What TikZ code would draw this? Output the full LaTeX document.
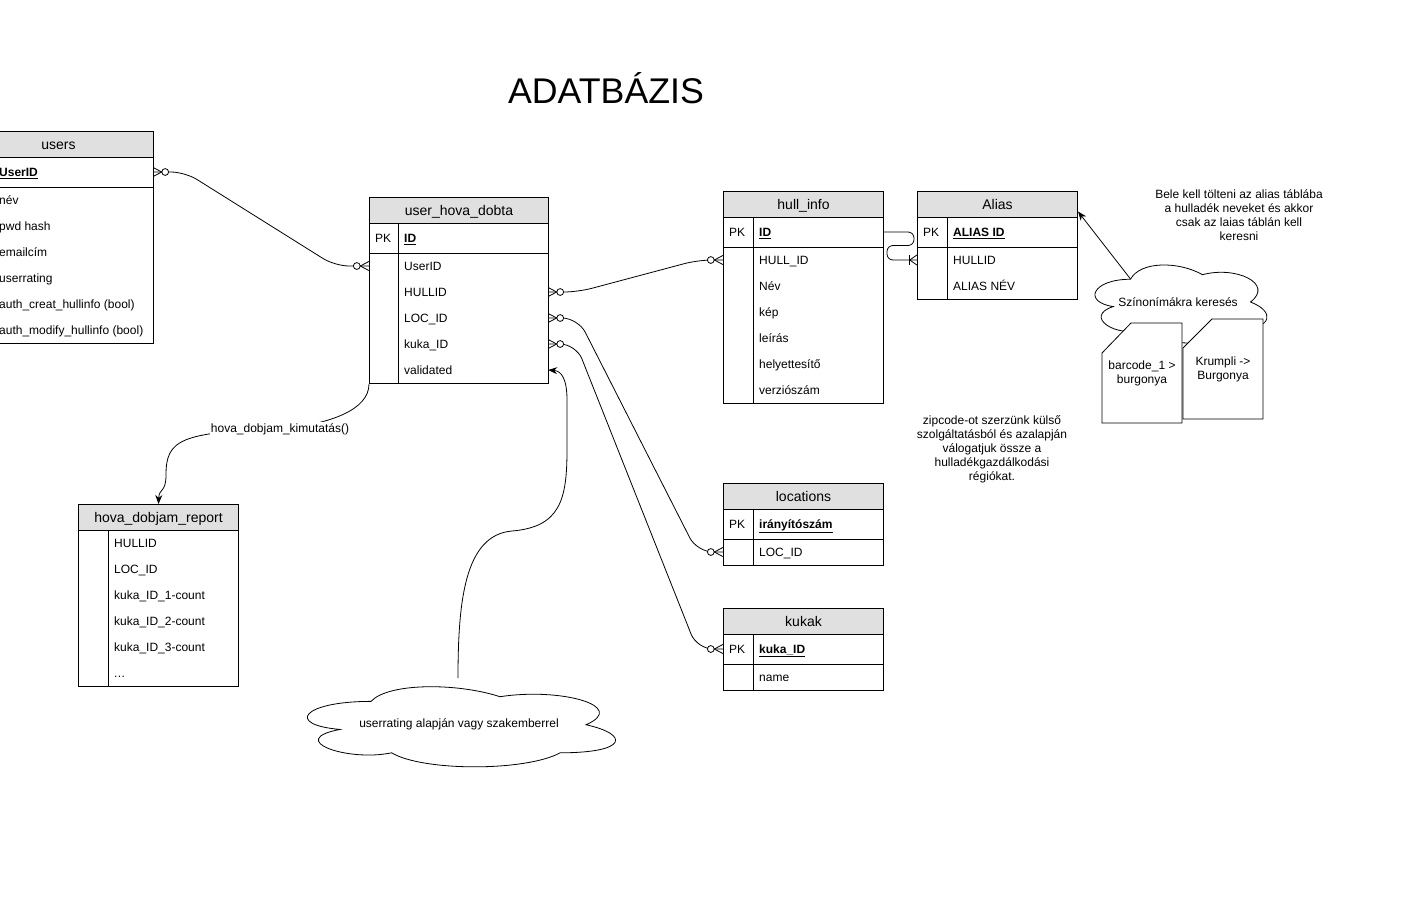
\documentclass[tikz,border=0pt]{standalone}
\usepackage{fontspec}
\setmainfont{Liberation Sans}
\usetikzlibrary{arrows.meta}
\definecolor{hdrgray}{HTML}{E0E0E0}
\newcommand\keyf[1]{\textbf{\underline{#1}}}
\newcommand\fsz{\fontsize{12}{14}\selectfont}
% #1 name, #2 x-left, #3 x-right, #4 y, #5 text x, #6 text
\newcommand\fld[6]{%
  \node[rowbox, minimum width={(#3)-(#2)}] (#1) at ({((#2)+(#3))/2},{#4}) {};
  \node[ft] (#1-t) at ({#5},{#4}) {#6};}
% cloud: #1 x, #2 y, #3 w, #4 h
\newcommand\cloudshape[4]{%
  \begin{scope}[shift={(#1,#2)}, xscale=#3, yscale=#4]
  \draw[conn, fill=white] (0.25,0.25) .. controls (0.05,0.25) and (0,0.5) .. (0.16,0.55)
    .. controls (0,0.66) and (0.18,0.9) .. (0.31,0.8)
    .. controls (0.4,1) and (0.7,1) .. (0.8,0.8)
    .. controls (1,0.8) and (1,0.6) .. (0.875,0.5)
    .. controls (1,0.3) and (0.8,0.1) .. (0.625,0.2)
    .. controls (0.5,0.05) and (0.3,0.05) .. (0.25,0.25) -- cycle;
  \end{scope}}
\tikzset{
  tbox/.style={draw=black, line width=1pt, inner sep=0pt, anchor=north west},
  tb/.style={draw=black, line width=1pt},
  conn/.style={draw=black, line width=0.8pt},
  hdr/.style={draw=black, fill=hdrgray, line width=1pt, inner sep=0pt, anchor=north west,
    minimum height=26pt, font=\fontsize{14}{16}\selectfont, text height=10.2pt, text depth=0pt},
  rowbox/.style={inner sep=0pt, minimum height=26pt},
  ft/.style={inner sep=0pt, anchor=west, font=\fsz, text height=8.6pt, text depth=0pt},
  pk/.style={inner sep=0pt, font=\fsz, text height=8.6pt, text depth=0pt},
  note/.style={align=center, font=\fsz, inner sep=0pt},
  lbl/.style={font=\fsz, fill=white, inner sep=1pt, text height=8.6pt, text depth=2.5pt},
  arr/.style={conn, -{Stealth[length=9pt, width=7pt]}},
  zm/.pic={\draw[conn] (0,-4.5) -- (8.5,0) -- (0,4.5); \draw[conn, fill=white] (12,0) circle[radius=3.4];},
  om/.pic={\draw[conn] (0,-5) -- (7,0) -- (0,5); \draw[conn] (7,-5) -- (7,5);},
}
\begin{document}
\begin{tikzpicture}[x=1pt, y=-1pt]
\useasboundingbox (0,0) rectangle (1403,913);
\clip (0,0) rectangle (1403,913);

% title
\node[inner sep=0pt, font=\fontsize{35.7}{40}\selectfont, text height=25.5pt, text depth=0pt] (title) at (606,90.5) {ADATBÁZIS};

% ---------- users ----------
\node[tbox, minimum width=190pt, minimum height=212pt] (uT) at (-37,131) {};
\node[hdr, minimum width=190pt] (uH) at (-37,131) {users};
\draw[tb] (-37,187) -- (153,187);
\draw[tb] (-7,157) -- (-7,343);
\fld{uUserID}{-37}{153}{172}{-1}{\keyf{UserID}}
\foreach \nm/\tx [count=\i] in {nev/név, pwd/pwd hash, email/emailcím, rating/userrating,
   creat/auth\_creat\_hullinfo (bool), modify/auth\_modify\_hullinfo (bool)}
  {\fld{u\nm}{-37}{153}{187+26*\i-13}{-1}{\tx}}

% ---------- user_hova_dobta ----------
\node[tbox, minimum width=179pt, minimum height=186pt] (uhdT) at (369,197) {};
\node[hdr, minimum width=179pt] (uhdH) at (369,197) {user\_hova\_dobta};
\draw[tb] (369,253) -- (548,253);
\draw[tb] (398.5,223) -- (398.5,383);
\node[pk] (uhdPK) at (383,238) {PK};
\fld{uhdID}{369}{548}{238}{404}{\keyf{ID}}
\foreach \nm/\tx [count=\i] in {UserID/UserID, HULLID/HULLID, LOC/LOC\_ID, KUKA/kuka\_ID, VAL/validated}
  {\fld{uhd\nm}{369}{548}{253+26*\i-13}{404}{\tx}}

% ---------- hull_info ----------
\node[tbox, minimum width=160pt, minimum height=212pt] (hT) at (723,191) {};
\node[hdr, minimum width=160pt] (hH) at (723,191) {hull\_info};
\draw[tb] (723,247) -- (883,247);
\draw[tb] (753,217) -- (753,403);
\node[pk] (hPK) at (737,232) {PK};
\fld{hID}{723}{883}{232}{759}{\keyf{ID}}
\foreach \nm/\tx [count=\i] in {HULLID/HULL\_ID, nev/Név, kep/kép, leiras/leírás, hely/helyettesítő, verzio/verziószám}
  {\fld{h\nm}{723}{883}{247+26*\i-13}{759}{\tx}}

% ---------- Alias ----------
\node[tbox, minimum width=160pt, minimum height=108pt] (aT) at (917,191) {};
\node[hdr, minimum width=160pt] (aH) at (917,191) {Alias};
\draw[tb] (917,247) -- (1077,247);
\draw[tb] (947,217) -- (947,299);
\node[pk] (aPK) at (931,232) {PK};
\fld{aID}{917}{1077}{232}{953}{\keyf{ALIAS ID}}
\fld{aHULLID}{917}{1077}{260}{953}{HULLID}
\fld{aNEV}{917}{1077}{286}{953}{ALIAS NÉV}

% ---------- locations ----------
\node[tbox, minimum width=160pt, minimum height=82pt] (lT) at (723,483) {};
\node[hdr, minimum width=160pt] (lH) at (723,483) {locations};
\draw[tb] (723,539) -- (883,539);
\draw[tb] (753,509) -- (753,565);
\node[pk] (lPK) at (737,524) {PK};
\fld{lIR}{723}{883}{524}{759}{\keyf{irányítószám}}
\fld{lLOC}{723}{883}{552}{759}{LOC\_ID}

% ---------- kukak ----------
\node[tbox, minimum width=160pt, minimum height=82pt] (kT) at (723,608) {};
\node[hdr, minimum width=160pt] (kH) at (723,608) {kukak};
\draw[tb] (723,664) -- (883,664);
\draw[tb] (753,634) -- (753,690);
\node[pk] (kPK) at (737,649) {PK};
\fld{kID}{723}{883}{649}{759}{\keyf{kuka\_ID}}
\fld{kName}{723}{883}{677}{759}{name}

% ---------- hova_dobjam_report ----------
\node[tbox, minimum width=160pt, minimum height=182pt] (rT) at (78,504) {};
\node[hdr, minimum width=160pt] (rH) at (78,504) {hova\_dobjam\_report};
\draw[tb] (108,530) -- (108,686);
\foreach \nm/\tx [count=\i] in {HULLID/HULLID, LOC/LOC\_ID, c1/kuka\_ID\_1-count, c2/kuka\_ID\_2-count, c3/kuka\_ID\_3-count}
  {\fld{r\nm}{78}{238}{530+26*\i-13}{114}{\tx}}
\fld{rdots}{78}{238}{673}{114}{.\kern0.4pt.\kern0.4pt.}

% ---------- ER connectors ----------
\draw[conn, rounded corners=14pt] (uUserID.east) -- (185,172) -- (335,266) -- (uhdUserID.west);
\pic at (uUserID.east) {zm};
\pic[rotate=180] at (uhdUserID.west) {zm};

\draw[conn, rounded corners=14pt] (uhdHULLID.east) -- (578,292) -- (698,260) -- (hHULLID.west);
\pic at (uhdHULLID.east) {zm};
\pic[rotate=180] at (hHULLID.west) {zm};

\draw[conn, rounded corners=16pt] (uhdLOC.east) -- (578,318) -- (697,552) -- (lLOC.west);
\pic at (uhdLOC.east) {zm};
\pic[rotate=180] at (lLOC.west) {zm};

\draw[conn, rounded corners=16pt] (uhdKUKA.east) -- (576,344) -- (697,649) -- (kID.west);
\pic at (uhdKUKA.east) {zm};
\pic[rotate=180] at (kID.west) {zm};

\draw[conn, rounded corners=6pt] (hID.east) -- (914,232) -- (914,245.5) -- (887,245.5) -- (887,260) -- (aHULLID.west);
\pic[rotate=180] at (aHULLID.west) {om};

% ---------- report connector with label ----------
\coordinate (kimc) at (280,429);
\draw[arr] (uhdT.south west) .. controls (369,410) and (330,424) .. (kimc)
  .. controls (180,432) and (166,440) .. (166,475)
  .. controls (166,493) and (159,488) .. (rT.north);
\node[lbl] (kim) at (kimc) {hova\_dobjam\_kimutatás()};

% ---------- clouds ----------
\cloudshape{285}{678}{344}{93.5}
\node[note] (cl2) at (459,724) {userrating alapján vagy szakemberrel};
\coordinate (cl2top) at (458,678);
\draw[arr] (cl2top) .. controls (458,600) and (465,535) .. (512,531)
  .. controls (560,527) and (567,500) .. (567,450) -- (567,400)
  .. controls (567,380) and (562,371) .. (uhdVAL.east);

\cloudshape{1082.5}{256.5}{192}{91}
\node[note] (cl1) at (1178,302) {Színonímákra keresés};
\coordinate (cl1pt) at (1130.5,279);
\draw[arr] (cl1pt) -- ([yshift=-7pt]aH.east);

% documents
\draw[conn, fill=white] (1102,353) -- (1131,323) -- (1182,323) -- (1182,423) -- (1102,423) -- cycle;
\node[note] (doc1) at (1142,373) {barcode\_1 >\\burgonya};
\draw[conn, fill=white] (1183,348) -- (1212,319) -- (1263,319) -- (1263,419) -- (1183,419) -- cycle;
\node[note] (doc2) at (1223,369) {Krumpli ->\\Burgonya};

% ---------- notes ----------
\node[note] (note1) at (1239,215) {Bele kell tölteni az alias táblába\\a hulladék neveket és akkor\\csak az laias táblán kell\\keresni};
\node[note] (note2) at (992,449) {zipcode-ot szerzünk külső\\szolgáltatásból és azalapján\\válogatjuk össze a\\hulladékgazdálkodási\\régiókat.};
\end{tikzpicture}
\end{document}
